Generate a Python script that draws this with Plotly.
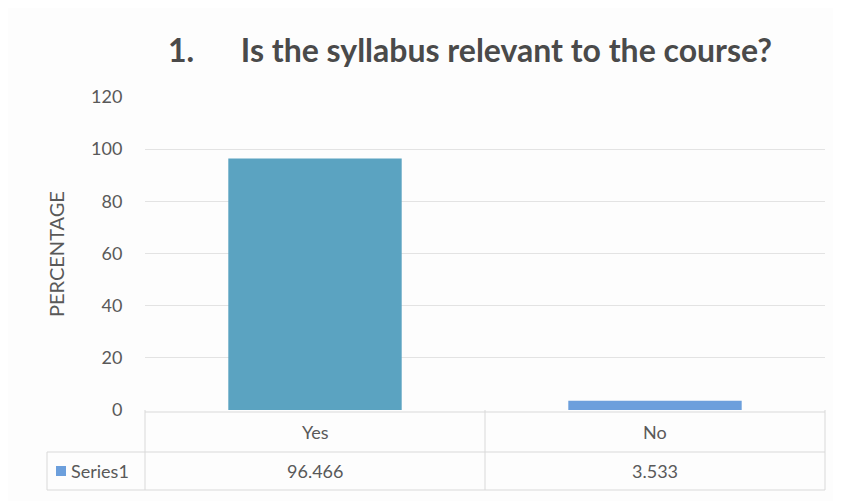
import plotly.graph_objects as go

categories = ["Yes", "No"]
values = [96.466, 3.533]
bar_colors = ["#5BA3C1", "#6C9FDC"]
series_name = "Series1"
y_ticks = [0, 20, 40, 60, 80, 100, 120]
title_text = "1.      Is the syllabus relevant to the course?"
y_title = "PERCENTAGE"

OFF = 8  # page body margin
W, H = 841 - OFF, 501 - OFF
PL, PR, PT, PB = 145, 825, 97, 410
L, T = PL - OFF, PT - OFF
R = W - (PR - OFF)
B = H - (PB - OFF)
pw, ph = PR - PL, PB - PT

def px_x(x):
    return (x - PL) / pw

def px_y(y):
    return (PB - y) / ph

fig = go.Figure()
fig.add_trace(go.Bar(
    x=categories, y=values, marker=dict(color=bar_colors, line=dict(width=0)),
    width=0.51, name=series_name, showlegend=False,
))

font_fam = "Lato, Open Sans, sans-serif"
grey = "#595959"
line_c = "#d9d9d9"

shapes = []
for yy in [412, 452, 490]:
    x0 = 47 if yy != 412 else 145
    shapes.append(dict(type="line", xref="paper", yref="paper",
                       x0=px_x(x0), x1=px_x(825), y0=px_y(yy), y1=px_y(yy),
                       line=dict(color=line_c, width=1)))
for xx in [145, 485, 825]:
    shapes.append(dict(type="line", xref="paper", yref="paper",
                       x0=px_x(xx), x1=px_x(xx), y0=px_y(410), y1=px_y(490),
                       line=dict(color=line_c, width=1)))
shapes.append(dict(type="line", xref="paper", yref="paper",
                   x0=px_x(47), x1=px_x(47), y0=px_y(452), y1=px_y(490),
                   line=dict(color=line_c, width=1)))
shapes.append(dict(type="rect", xref="paper", yref="paper",
                   x0=px_x(56), x1=px_x(66), y0=px_y(476), y1=px_y(466),
                   fillcolor=bar_colors[1], line=dict(width=0)))

annotations = []
for c, v in zip(categories, values):
    annotations.append(dict(x=c, xref="x", y=px_y(432), yref="paper", text=c,
                            xanchor="center", yanchor="middle",
                            showarrow=False, font=dict(size=18, color=grey, family=font_fam)))
    annotations.append(dict(x=c, xref="x", y=px_y(471), yref="paper", text=f"{v:g}",
                            xanchor="center", yanchor="middle",
                            showarrow=False, font=dict(size=18, color=grey, family=font_fam)))
annotations.append(dict(x=px_x(69), xref="paper", y=px_y(471), yref="paper", text=series_name,
                        xanchor="left", yanchor="middle",
                        showarrow=False, font=dict(size=18, color=grey, family=font_fam)))
annotations.append(dict(x=px_x(56), xref="paper", y=px_y(254), yref="paper", text=y_title,
                        xanchor="center", yanchor="middle",
                        textangle=-90, showarrow=False, font=dict(size=20, color=grey, family=font_fam)))
annotations.append(dict(x=px_x(470), xref="paper", y=px_y(49), yref="paper",
                        text="<b>" + title_text.replace(" ", "&nbsp;") + "</b>",
                        xanchor="center", yanchor="middle",
                        showarrow=False, font=dict(size=32, color="#4a4a4a", family=font_fam)))

fig.update_layout(
    width=W, height=H,
    margin=dict(l=L, r=R, t=T, b=B),
    paper_bgcolor="#fdfdfd", plot_bgcolor="#fdfdfd",
    shapes=shapes, annotations=annotations,
    showlegend=False,
)
fig.update_xaxes(showticklabels=False, showgrid=False, zeroline=False, showline=False)
fig.update_yaxes(range=[0, 120], tickvals=y_ticks, showgrid=True, gridcolor="#e3e3e3",
                 zeroline=False, ticks="outside", ticklen=18, tickcolor="rgba(0,0,0,0)",
                 tickfont=dict(size=18, color=grey, family=font_fam))

fig.write_html("out.html")
